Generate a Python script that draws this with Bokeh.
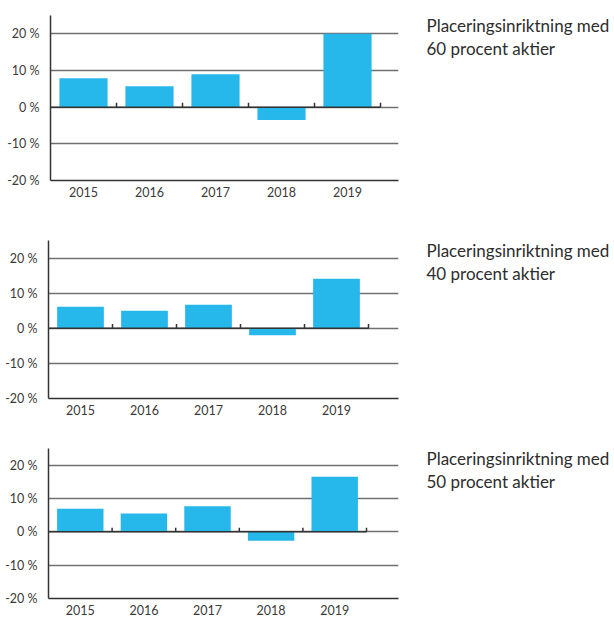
from bokeh.plotting import figure
from bokeh.layouts import column, row
from bokeh.models import Range1d, FixedTicker, ColumnDataSource
from bokeh.core.properties import value
from bokeh.embed import file_html
from bokeh.resources import INLINE

# ---- data ----
years = ["2015", "2016", "2017", "2018", "2019"]
ret_60 = [7.9, 5.7, 9.0, -3.5, 20.0]
ret_40 = [6.1, 5.0, 6.7, -2.0, 14.1]
ret_50 = [6.9, 5.5, 7.7, -2.7, 16.5]
y_ticks = [-20, -10, 0, 10, 20]
title_line1 = ["Placeringsinriktning med", "Placeringsinriktning med", "Placeringsinriktning med"]
title_line2 = ["60 procent aktier", "40 procent aktier", "50 procent aktier"]

BAR = "#27b8eb"
DARK = "#333333"
GRID = "#6f7073"
FONT = "Lato"
CHART_W = 408
TEXT_W = 206


def make_chart(vals, left, frame_w, frame_h, top, bottom, x_end):
    n = len(vals)
    xs = [i + 1 for i in range(n)]
    h = top + frame_h + bottom
    p = figure(width=CHART_W, height=h, x_range=Range1d(0.5, x_end),
               y_range=Range1d(-20, 25), toolbar_location=None,
               output_backend="svg", min_border_left=left,
               min_border_right=CHART_W - left - frame_w,
               min_border_top=top, min_border_bottom=bottom)
    p.outline_line_color = None
    p.background_fill_color = "white"
    p.border_fill_color = "white"
    p.xgrid.visible = False
    p.ygrid.ticker = FixedTicker(ticks=y_ticks)
    p.ygrid.grid_line_color = GRID
    p.ygrid.grid_line_width = 1.5

    src = ColumnDataSource(dict(x=xs, top=vals))
    p.vbar(x="x", top="top", bottom=0, width=0.73, source=src,
           fill_color=BAR, line_color=None)

    # dark zero axis with small upward ticks between categories
    p.segment(x0=[0.5], y0=[0], x1=[n + 0.5], y1=[0], line_color=DARK, line_width=1.5)
    bx = [i + 1.5 for i in range(n)]
    p.segment(x0=bx, y0=[0] * n, x1=bx, y1=[1.2] * n, line_color=DARK, line_width=1.5)

    yax = p.yaxis[0]
    yax.ticker = FixedTicker(ticks=y_ticks)
    yax.major_label_overrides = {t: f"{t} %" for t in y_ticks}
    yax.axis_line_color = DARK
    yax.axis_line_width = 1.5
    yax.major_tick_line_color = None
    yax.minor_tick_line_color = None
    yax.major_label_standoff = 5
    yax.major_label_text_font = FONT
    yax.major_label_text_font_size = "12.5px"
    yax.major_label_text_color = "#3a3a3a"

    xax = p.xaxis[0]
    xax.ticker = FixedTicker(ticks=xs)
    xax.major_label_overrides = {x: y for x, y in zip(xs, years)}
    xax.axis_line_color = DARK
    xax.axis_line_width = 1.5
    xax.major_tick_line_color = None
    xax.minor_tick_line_color = None
    xax.major_label_standoff = 0
    xax.major_label_text_font = FONT
    xax.major_label_text_font_size = "12.5px"
    xax.major_label_text_color = "#3a3a3a"
    return p


def make_title(l1, l2, h, fh, y1, y2):
    # the row aligns this figure's frame with the chart's frame,
    # so positions are measured from the top of that frame
    t = figure(width=TEXT_W, height=h, x_range=Range1d(0, TEXT_W),
               y_range=Range1d(0, fh), toolbar_location=None,
               x_axis_type=None, y_axis_type=None,
               output_backend="svg", min_border=0)
    t.grid.visible = False
    t.outline_line_color = None
    t.text(x=[18, 18], y=[fh - y1, fh - y2], text=[l1, l2],
           text_font=value(FONT), text_font_size="17px",
           text_baseline="middle", text_align="left", text_color="#2d2d2d")
    return t


# (values, left border, frame width, frame height, top border, bottom border, x end)
specs = [
    (ret_60, 50, 348, 165, 15, 53, 0.5 + 348 / 66),
    (ret_40, 48, 350, 158, 7, 44, 0.5 + 350 / 64),
    (ret_50, 48, 350, 150, 6, 20, 0.5 + 350 / 63.6),
]

rows = []
for i, (vals, left, fw, fh, top, bottom, x_end) in enumerate(specs):
    c = make_chart(vals, left, fw, fh, top, bottom, x_end)
    t = make_title(title_line1[i], title_line2[i], c.height, fh, 9.5, 32.5)
    rows.append(row(c, t))

layout = column(*rows)
open("out.html", "w").write(file_html(layout, INLINE))
